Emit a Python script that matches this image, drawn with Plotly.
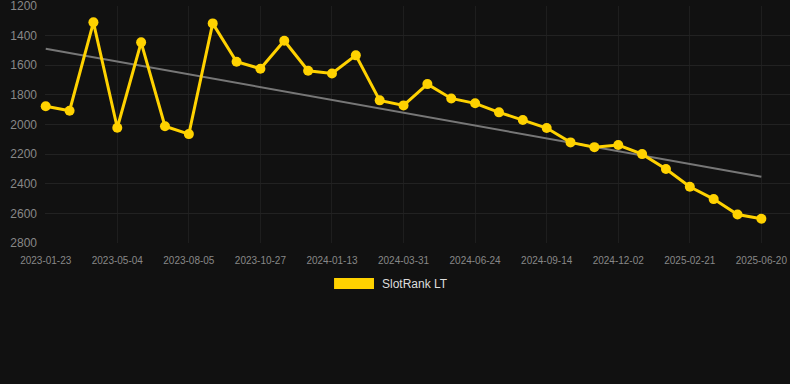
import plotly.graph_objects as go

dates = [
    "2023-01-23", "2023-02-25", "2023-03-30", "2023-05-04", "2023-06-04", "2023-07-05",
    "2023-08-05", "2023-09-02", "2023-09-30", "2023-10-27", "2023-11-22", "2023-12-18",
    "2024-01-13", "2024-02-08", "2024-03-05", "2024-03-31", "2024-04-28", "2024-05-27",
    "2024-06-24", "2024-07-22", "2024-08-18", "2024-09-14", "2024-10-10", "2024-11-05",
    "2024-12-02", "2024-12-29", "2025-01-25", "2025-02-21", "2025-03-31", "2025-05-10",
    "2025-06-20",
]
rank = [
    1877, 1907, 1310, 2022, 1445, 2012, 2065, 1317, 1576, 1623, 1434,
    1637, 1655, 1533, 1837, 1871, 1727, 1824, 1857, 1918, 1970, 2024,
    2121, 2153, 2139, 2200, 2301, 2421, 2504, 2608, 2637,
]
trend_dates = [dates[0], dates[-1]]
trend_values = [1488, 2353]
tick_labels = dates[::3]
y_ticks = [1200, 1400, 1600, 1800, 2000, 2200, 2400, 2600, 2800]
series_name = "SlotRank LT"

BG = "#111111"
GOLD = "#FFD200"

fig = go.Figure()
fig.add_trace(go.Scatter(
    x=trend_dates, y=trend_values, mode="lines",
    line=dict(color="#777777", width=2), showlegend=False, hoverinfo="skip",
))
fig.add_trace(go.Scatter(
    x=dates, y=rank, mode="lines+markers", name=series_name,
    line=dict(color=GOLD, width=3),
    marker=dict(color=GOLD, size=10),
    showlegend=False, cliponaxis=False,
))

fig.update_layout(
    width=790, height=384,
    paper_bgcolor=BG, plot_bgcolor=BG,
    margin=dict(l=45, r=0, t=6, b=141),
    font=dict(family="Liberation Sans, Arial, sans-serif", color="#888888"),
    xaxis=dict(
        type="category", categoryorder="array", categoryarray=dates,
        tickmode="array", tickvals=tick_labels, ticktext=tick_labels,
        range=[-0.03, 31.2],
        showgrid=True, gridcolor="#1e1e1e", gridwidth=1,
        zeroline=False, showline=False, ticks="",
        tickfont=dict(size=10, color="#888888"),
        ticklabelstandoff=10,
    ),
    yaxis=dict(
        range=[2800.5, 1199.5], tickvals=y_ticks,
        showgrid=True, gridcolor="#222222", gridwidth=1,
        zeroline=False, showline=False, ticks="",
        tickfont=dict(size=12, color="#888888"),
        ticklabelstandoff=7, ticklabeloverflow="allow",
    ),
    showlegend=False,
)

# legend swatch and label
fig.add_shape(type="rect", xref="paper", yref="paper",
              x0=0.388, x1=0.4416, y0=-0.194, y1=-0.1477,
              fillcolor=GOLD, line=dict(width=0))
fig.add_annotation(xref="paper", yref="paper", x=0.4497, y=-0.171,
                   xanchor="left", yanchor="middle", showarrow=False,
                   text=series_name, font=dict(size=12, color="#dddddd"))

fig.write_html(
    "out.html",
    config={"displayModeBar": False},
    post_script="document.body.style.margin='0';document.body.style.background='#111111';document.body.style.overflow='hidden';",
)
